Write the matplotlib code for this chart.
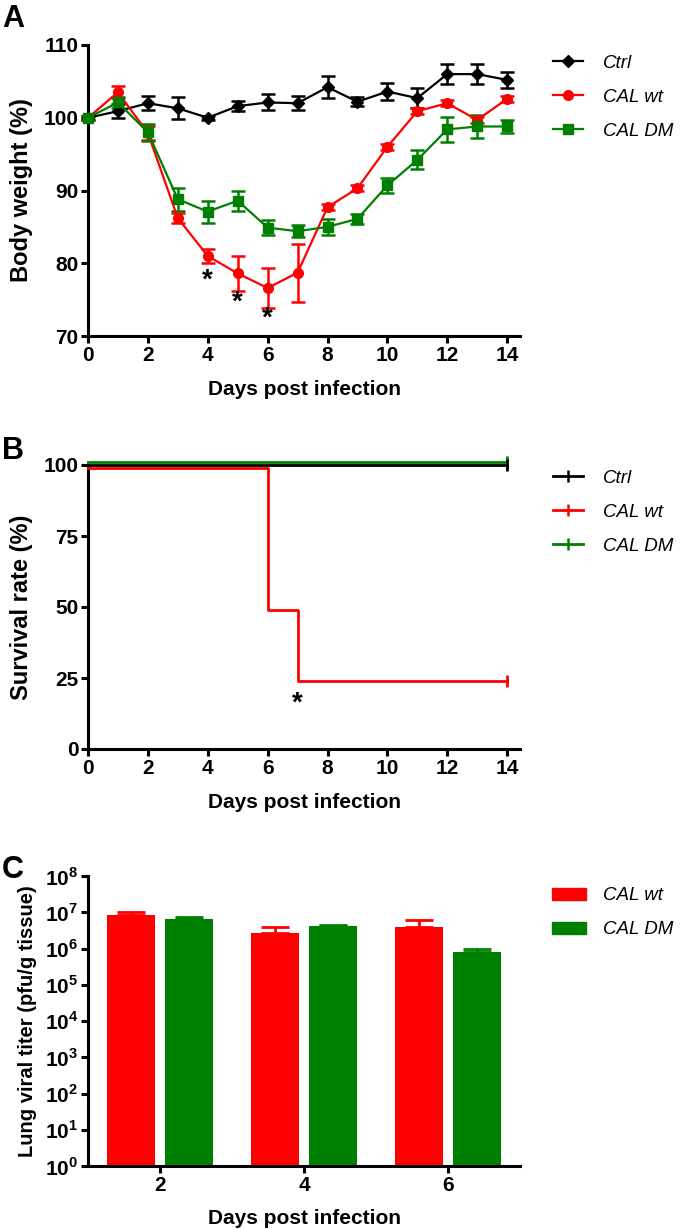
import numpy as np
import matplotlib
matplotlib.use("Agg")
import matplotlib.pyplot as plt
from matplotlib.lines import Line2D
from matplotlib.patches import Patch

plt.rcParams['font.family'] = ['Liberation Sans', 'DejaVu Sans']
plt.rcParams['mathtext.fontset'] = 'custom'
plt.rcParams['mathtext.rm'] = 'Liberation Sans:bold'
plt.rcParams['mathtext.bf'] = 'Liberation Sans:bold'

RED = '#ff0000'
GREEN = '#008000'
BLACK = '#000000'

# Panel A: body weight (%)
days = list(range(15))
ctrl_w = [100, 100.9, 102.0, 101.3, 100.0, 101.6, 102.1, 102.0, 104.2, 102.2, 103.6, 102.7, 106.0, 106.0, 105.2]
ctrl_err = [0.3, 1.0, 1.0, 1.5, 0.3, 0.7, 1.1, 1.0, 1.5, 0.6, 1.2, 1.4, 1.4, 1.4, 1.1]
wt_w = [100, 103.5, 97.9, 86.2, 81.0, 78.6, 76.6, 78.7, 87.7, 90.3, 96.0, 100.9, 102.0, 99.7, 102.6]
wt_err = [0.3, 0.8, 1.0, 0.7, 1.0, 2.4, 2.8, 4.0, 0.4, 0.4, 0.4, 0.4, 0.4, 0.4, 0.4]
dm_w = [100, 102.1, 98.0, 88.8, 87.1, 88.6, 84.9, 84.4, 85.0, 86.1, 90.7, 94.2, 98.4, 98.8, 98.8]
dm_err = [0.3, 0.8, 1.2, 1.6, 1.5, 1.4, 1.0, 0.8, 1.1, 0.7, 1.0, 1.3, 1.7, 1.6, 0.9]
star_days_a = [4, 5, 6]
star_y_a = [77.6, 74.6, 72.4]

# Panel B: survival (%)
ctrl_surv_days = [0, 14]
ctrl_surv = [100, 100]
wt_surv_days = [0, 6, 7, 14]
wt_surv = [99, 49, 24, 24]
dm_surv_days = [0, 14]
dm_surv = [101, 101]

# Panel C: lung viral titer (pfu/g tissue)
titer_days = ['2', '4', '6']
wt_titer = [8.4e6, 2.6e6, 3.8e6]
wt_titer_err = [2.0e6, 1.4e6, 2.5e6]
dm_titer = [6.5e6, 4.2e6, 7.8e5]
dm_titer_err = [0.7e6, 0.25e6, 2.2e5]

fig = plt.figure(figsize=(6.8, 12.29), dpi=100)
W, H = 680, 1229


def make_axes(left, top, right, bottom):
    return fig.add_axes([left / W, 1 - bottom / H, (right - left) / W, (bottom - top) / H])


def style_axes(ax):
    for s in ['top', 'right']:
        ax.spines[s].set_visible(False)
    for s in ['left', 'bottom']:
        ax.spines[s].set_linewidth(2.2)
    ax.tick_params(width=2.2, length=5, labelsize=15, pad=2)
    for lab in ax.get_xticklabels() + ax.get_yticklabels():
        lab.set_fontweight('bold')


xlabel_kw = dict(fontsize=15, fontweight='bold')
leg_prop = dict(style='italic', size=13.5)

# ---- A ----
axA = make_axes(88, 45, 520, 336)
for y, e, c, m, ms in [(ctrl_w, ctrl_err, BLACK, 'D', 6.5), (wt_w, wt_err, RED, 'o', 7), (dm_w, dm_err, GREEN, 's', 7.5)]:
    axA.errorbar(days, y, yerr=e, color=c, marker=m, markersize=ms, linewidth=1.6,
                 elinewidth=1.8, capsize=5, capthick=1.8, clip_on=False, zorder=3)
for d, y in zip(star_days_a, star_y_a):
    axA.text(d, y, '*', ha='center', va='center', fontsize=20, fontweight='bold')
axA.set_xlim(0, 14.43)
axA.set_ylim(70, 110)
axA.set_xticks(range(0, 15, 2))
axA.set_yticks(range(70, 111, 10))
style_axes(axA)
axA.set_xlabel('Days post infection', **xlabel_kw)
axA.set_ylabel('Body weight (%)', fontsize=17, fontweight='bold')
axA.xaxis.set_label_coords(0.5, -0.15)
axA.yaxis.set_label_coords(-0.127, 0.5)
handlesA = [Line2D([], [], color=BLACK, marker='D', markersize=6.5, linewidth=1.6),
            Line2D([], [], color=RED, marker='o', markersize=7, linewidth=1.6),
            Line2D([], [], color=GREEN, marker='s', markersize=7.5, linewidth=1.6)]
axA.legend(handlesA, ['Ctrl', 'CAL wt', 'CAL DM'], loc='upper left', bbox_to_anchor=(545.5 / W, 1 - 47 / H),
           bbox_transform=fig.transFigure, frameon=False, prop=leg_prop,
           handlelength=1.6, labelspacing=0.9, handletextpad=1.05, borderaxespad=0)
fig.text(2 / W, 1 - 4 / H, 'A', fontsize=22, fontweight='bold', va='top')

# ---- B ----
axB = make_axes(88, 465, 520, 749)
for x, y, c, z in [(ctrl_surv_days, ctrl_surv, BLACK, 3), (dm_surv_days, dm_surv, GREEN, 2), (wt_surv_days, wt_surv, RED, 4)]:
    axB.step(x, y, where='post', color=c, linewidth=2, clip_on=False, zorder=z)
    axB.plot(x[-1], y[-1], marker='|', markersize=9, markeredgewidth=2, color=c, clip_on=False, zorder=z)
axB.text(7, 16, '*', ha='center', va='center', fontsize=20, fontweight='bold')
axB.set_xlim(0, 14.43)
axB.set_ylim(0, 100)
axB.set_xticks(range(0, 15, 2))
axB.set_yticks([0, 25, 50, 75, 100])
style_axes(axB)
axB.set_xlabel('Days post infection', **xlabel_kw)
axB.set_ylabel('Survival rate (%)', fontsize=17, fontweight='bold')
axB.xaxis.set_label_coords(0.5, -0.155)
axB.yaxis.set_label_coords(-0.127, 0.5)
handlesB = [Line2D([], [], color=c, marker='|', markersize=8, markeredgewidth=1.8, linewidth=2)
            for c in [BLACK, RED, GREEN]]
axB.legend(handlesB, ['Ctrl', 'CAL wt', 'CAL DM'], loc='upper left', bbox_to_anchor=(545.5 / W, 1 - 462 / H),
           bbox_transform=fig.transFigure, frameon=False, prop=leg_prop,
           handlelength=1.6, labelspacing=0.9, handletextpad=1.05, borderaxespad=0)
fig.text(2 / W, 1 - 436 / H, 'B', fontsize=22, fontweight='bold', va='top')

# ---- C ----
axC = make_axes(88, 876, 520, 1166)
xpos = np.arange(len(titer_days))
bw = 0.33
axC.bar(xpos - 0.2, wt_titer, bw, color=RED, zorder=2)
axC.bar(xpos + 0.2, dm_titer, bw, color=GREEN, zorder=2)
axC.errorbar(xpos - 0.2, wt_titer, yerr=[np.zeros(3), wt_titer_err], fmt='none', ecolor=RED,
             elinewidth=2, capsize=10, capthick=2, zorder=1)
axC.errorbar(xpos + 0.2, dm_titer, yerr=[np.zeros(3), dm_titer_err], fmt='none', ecolor=GREEN,
             elinewidth=2, capsize=10, capthick=2, zorder=1)
axC.set_yscale('log')
axC.set_ylim(1, 1e8)
axC.set_xlim(-0.5, 2.5)
axC.set_yticks([10 ** k for k in range(9)])
axC.set_yticklabels([r'$10^{%d}$' % k for k in range(9)])
axC.minorticks_off()
axC.set_xticks(xpos)
axC.set_xticklabels(titer_days)
style_axes(axC)
axC.set_xlabel('Days post infection', **xlabel_kw)
axC.set_ylabel('Lung viral titer (pfu/g tissue)', fontsize=14.5, fontweight='bold')
axC.xaxis.set_label_coords(0.5, -0.15)
axC.yaxis.set_label_coords(-0.118, 0.5)
handlesC = [Patch(color=RED), Patch(color=GREEN)]
axC.legend(handlesC, ['CAL wt', 'CAL DM'], loc='upper left', bbox_to_anchor=(544.5 / W, 1 - 880 / H),
           bbox_transform=fig.transFigure, frameon=False, prop=leg_prop,
           handlelength=1.8, handleheight=0.64, labelspacing=0.9, handletextpad=0.9, borderaxespad=0)
fig.text(2 / W, 1 - 855 / H, 'C', fontsize=22, fontweight='bold', va='top')

fig.savefig('out.png', dpi=100)
